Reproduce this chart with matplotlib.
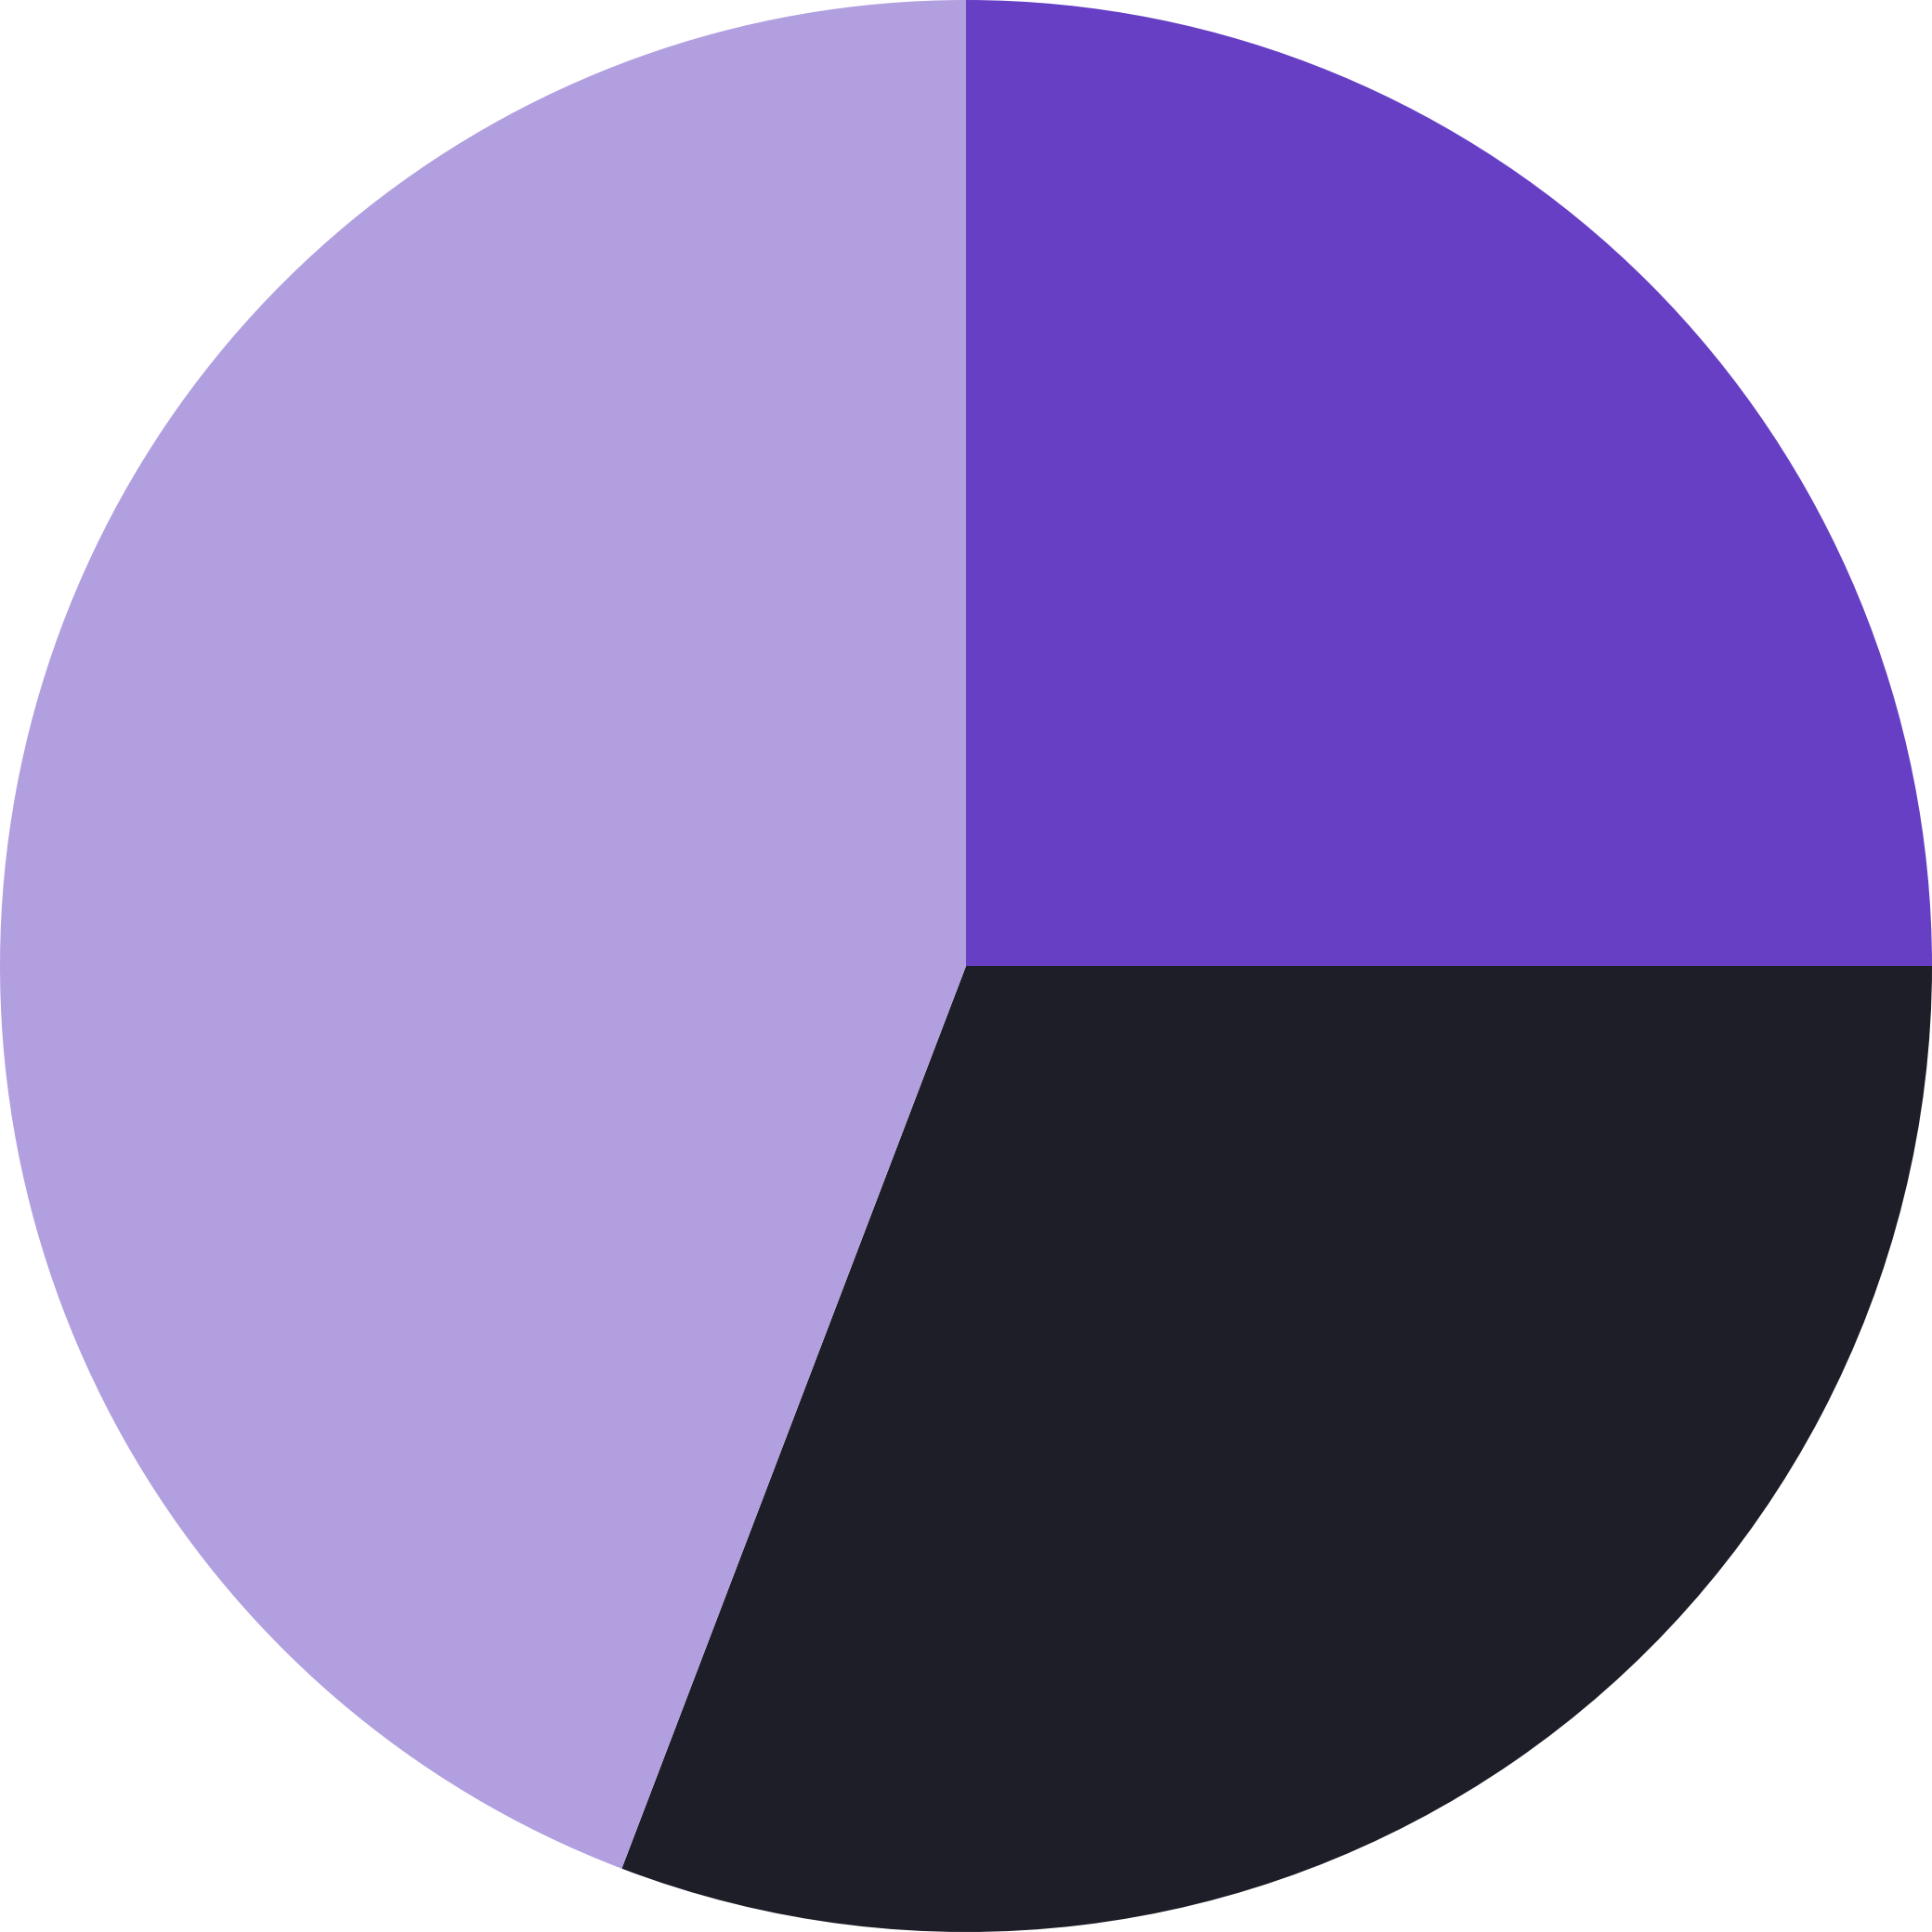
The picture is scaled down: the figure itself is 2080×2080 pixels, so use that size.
import matplotlib
matplotlib.use("Agg")
import matplotlib.pyplot as plt

labels = ["A", "B", "C"]
values = [25.0, 30.8, 44.2]
colors = ["#673FC5", "#1E1E29", "#B29FE0"]

fig = plt.figure(figsize=(20.8, 20.8), dpi=100)
ax = fig.add_axes([0, 0, 1, 1])
ax.pie(values, colors=colors, startangle=90, counterclock=False, radius=1.0,
       wedgeprops=dict(linewidth=0))
ax.set_xlim(-1, 1)
ax.set_ylim(-1, 1)
ax.set_aspect("equal")
ax.axis("off")
fig.savefig("out.png", dpi=100, facecolor="white")
